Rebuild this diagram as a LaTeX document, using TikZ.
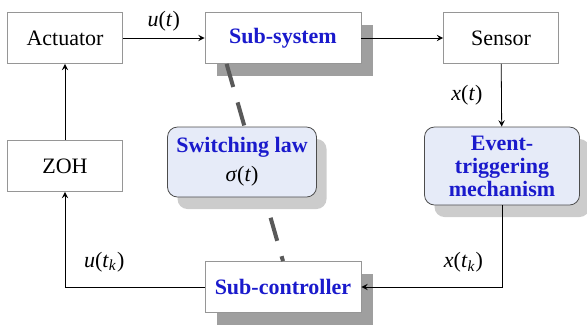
\documentclass[tikz,border=0pt]{standalone}
\usepackage{fontspec}
\setmainfont{Liberation Serif}
\usetikzlibrary{positioning,shadows}
\definecolor{lawblue}{RGB}{26,26,204}
\definecolor{panel}{RGB}{230,235,248}
\definecolor{edgegray}{RGB}{150,150,150}

\begin{document}
\begin{tikzpicture}[->,>=stealth,x=0.5pt,y=-0.5pt,thin,font=\fontsize{11}{12}\selectfont]
\tikzstyle{blk}=[draw=edgegray,fill=white,minimum width=57.5pt,minimum height=25.5pt,inner sep=2pt]
\tikzstyle{sys}=[blk,minimum width=78pt,text=lawblue,font=\fontsize{11}{12}\selectfont\bfseries,drop shadow={shadow xshift=6pt,shadow yshift=-6pt,fill=gray!75,opacity=1}]
\tikzstyle{law}=[draw=black!70,fill=panel,rounded corners=5pt,align=center,text=lawblue,font=\fontsize{11}{11.5}\selectfont\bfseries,drop shadow={shadow xshift=5pt,shadow yshift=-6pt,fill=black!20,opacity=1}]
\tikzstyle{lbl}=[font=\fontsize{11}{12}\selectfont]
\useasboundingbox (0,0) rectangle (587,329);
\node[blk]	(act)	  at (65,38)	{Actuator};
\node[sys]	(subsys)  at (283,38)	{Sub-system};
\node[blk]	(sens)	  at (501,38)	{Sensor};
\node[blk]	(zoh)	  at (65,166)	{ZOH};
\node[sys]	(subctrl) at (283,287)	{Sub-controller};
\node[law, minimum width=77.5pt, minimum height=39pt]	(etm)	at (502,166)	{Event-\\triggering\\mechanism};
\draw[-,line width=2pt,draw=black!65,dash pattern=on 12pt off 8pt] ([xshift=11pt]subsys.south west) -- (subctrl.north);
\node[law, minimum width=74.5pt, minimum height=35pt]	(sw)	at (242,162)	{Switching law\\[3pt]\mdseries\textcolor{black}{\textit{σ}(\textit{t})}};
\path(act)	edge	node[lbl,above]	{\textit{u}(\textit{t})}	(subsys)
	 (subsys)	edge	(sens)
	 (sens)	edge	node[lbl,left=6pt]	{\textit{x}(\textit{t})}	(etm)
	 (zoh)	edge	(act);
\draw (etm.south) |- node[lbl,pos=0.35,left=6pt] {\textit{x}(\textit{t}\textsubscript{\textit{k}})} (subctrl.east);
\draw (subctrl.west) -| node[lbl,pos=0.63,right=6pt] {\textit{u}(\textit{t}\textsubscript{\textit{k}})} (zoh.south);
\end{tikzpicture}
\end{document}
